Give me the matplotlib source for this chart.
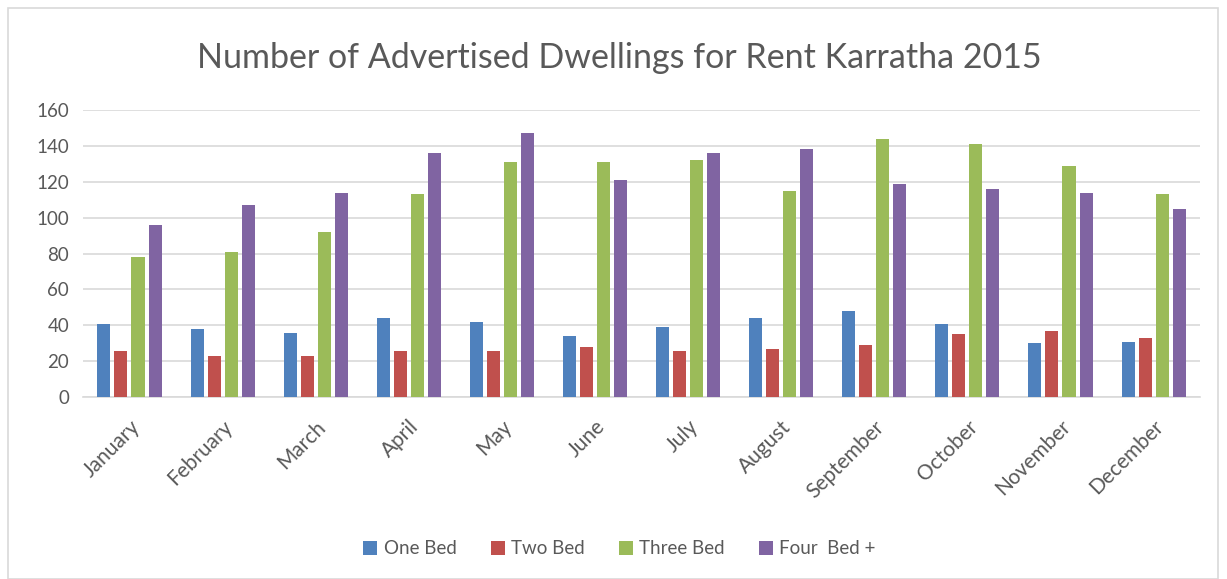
import matplotlib
matplotlib.use('Agg')
import matplotlib.pyplot as plt
from matplotlib.patches import Rectangle
import numpy as np

plt.rcParams['font.family'] = ['Lato', 'DejaVu Sans']

months = ['January', 'February', 'March', 'April', 'May', 'June', 'July',
          'August', 'September', 'October', 'November', 'December']
series_names = ['One Bed', 'Two Bed', 'Three Bed', 'Four  Bed +']
one_bed = [41, 38, 36, 44, 42, 34, 39, 44, 48, 41, 30, 31]
two_bed = [26, 23, 23, 26, 26, 28, 26, 27, 29, 35, 37, 33]
three_bed = [78, 81, 92, 113, 131, 131, 132, 115, 144, 141, 129, 113]
four_bed = [96, 107, 114, 136, 147, 121, 136, 138, 119, 116, 114, 105]

COLORS = ['#4F81BD', '#C0504D', '#9BBB59', '#8064A2']
TEXT = '#595959'
GRID = '#D9D9D9'

fig = plt.figure(figsize=(12.27, 5.79), dpi=100, facecolor='white')
ax = fig.add_axes([0.0676, 0.314, 0.9105, 0.496])

x = np.arange(len(months))
width = 0.14
step = 0.183
all_series = [one_bed, two_bed, three_bed, four_bed]
for i, (vals, name) in enumerate(zip(all_series, series_names)):
    ax.bar(x + (i - 1.5) * step, vals, width=width, color=COLORS[i],
           label=name, zorder=3)

ax.set_xlim(-0.5, len(months) - 0.5)
ax.set_ylim(0, 160)
ax.set_yticks(range(0, 161, 20))
ax.grid(axis='y', color=GRID, linewidth=1.2, zorder=0)
for s in ['top', 'right', 'left']:
    ax.spines[s].set_visible(False)
ax.spines['bottom'].set_color(GRID)
ax.spines['bottom'].set_linewidth(1.2)
ax.tick_params(axis='both', length=0, colors=TEXT)
ax.tick_params(axis='y', pad=10, labelsize=13.5)
ax.set_xticks(x + 0.0)
ax.set_xticklabels(months, rotation=45, ha='right', va='top',
                   rotation_mode='anchor')
ax.tick_params(axis='x', pad=14, labelsize=15)

fig.suptitle('Number of Advertised Dwellings for Rent Karratha 2015',
             fontsize=24.5, color=TEXT, x=0.505, y=0.928)

fig.legend(loc='center', bbox_to_anchor=(0.505, 0.052), ncol=4,
           frameon=False, fontsize=13.5, labelcolor=TEXT,
           handlelength=0.75, handleheight=0.75, handletextpad=0.35,
           columnspacing=1.8)

fig.patches.append(Rectangle((8 / 1227, 0.0), 1210 / 1227, 571 / 579,
                             transform=fig.transFigure, fill=False,
                             edgecolor=GRID, linewidth=1.2))

plt.savefig('out.png', dpi=100, facecolor='white')
